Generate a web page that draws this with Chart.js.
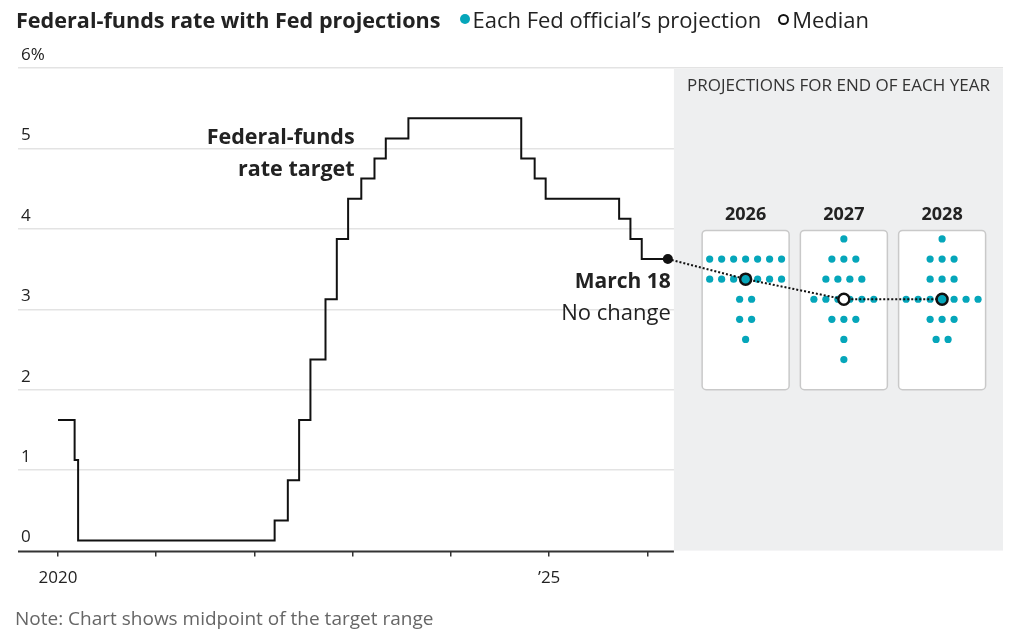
<!DOCTYPE html>
<html>
<head>
<meta charset="utf-8">
<script src="https://cdn.jsdelivr.net/npm/chart.js@4.4.1/dist/chart.umd.min.js"></script>
<style>
  body { margin: 0; background: #fff; font-family: 'Open Sans', sans-serif; color: #222; }
  #wrap { position: relative; width: 1022px; height: 636px; }
  canvas { position: absolute; left: 0; top: 0; }
  #head { position: absolute; left: 16px; top: 4px; display: flex; align-items: center; white-space: nowrap; }
  #head h1 { font-size: 21.6px; font-weight: 700; margin: 0 20px 0 0; color: #222; }
  .key { font-size: 22px; display: flex; align-items: center; margin-right: 17px; color: #222; }
  .dot { width: 10px; height: 10px; border-radius: 50%; background: #05a6ba; margin-right: 2px; }
  .ring { width: 7px; height: 7px; border-radius: 50%; border: 2.5px solid #111; margin-right: 3px; }
  #note { position: absolute; left: 15px; top: 605px; font-size: 19px; color: #666; }
</style>
</head>
<body>
<div id="wrap">
  <canvas id="myChart" width="1022" height="636"></canvas>
  <div id="head">
    <h1>Federal-funds rate with Fed projections</h1>
    <span class="key"><span class="dot"></span>Each Fed official’s projection</span>
    <span class="key"><span class="ring"></span>Median</span>
  </div>
  <div id="note">Note: Chart shows midpoint of the target range</div>
</div>
<script>
// fed funds target midpoint, each value holds from its date on
const rateDates = ['2020-01-01', '2020-03-03', '2020-03-16', '2022-03-17', '2022-05-05', '2022-06-16',
  '2022-07-28', '2022-09-22', '2022-11-03', '2022-12-15', '2023-02-02', '2023-03-23', '2023-05-04',
  '2023-07-27', '2024-09-19', '2024-11-08', '2024-12-19', '2025-09-18', '2025-10-30', '2025-12-11',
  '2026-03-18'];
const rateMid = [1.625, 1.125, 0.125, 0.375, 0.875, 1.625, 2.375, 3.125, 3.875, 4.375, 4.625, 4.875,
  5.125, 5.375, 4.875, 4.625, 4.375, 4.125, 3.875, 3.625, 3.625];

// dot plot, one value per official
const projYears = ['2026', '2027', '2028'];
const proj2026 = [3.625, 3.625, 3.625, 3.625, 3.625, 3.625, 3.625,
  3.375, 3.375, 3.375, 3.375, 3.375, 3.375, 3.375,
  3.125, 3.125, 2.875, 2.875, 2.625];
const proj2027 = [3.875, 3.625, 3.625, 3.625, 3.375, 3.375, 3.375, 3.375,
  3.125, 3.125, 3.125, 3.125, 3.125, 3.125,
  2.875, 2.875, 2.875, 2.625, 2.375];
const proj2028 = [3.875, 3.625, 3.625, 3.625, 3.375, 3.375, 3.375,
  3.125, 3.125, 3.125, 3.125, 3.125, 3.125, 3.125,
  2.875, 2.875, 2.875, 2.625, 2.625];
const projMedian = [3.375, 3.125, 3.125];

const yTicks = [0, 1, 2, 3, 4, 5, 6];
const xTicks = [2020, 2021, 2022, 2023, 2024, 2025, 2026];
const xTickLabels = ['2020', '', '', '', '', '’25', ''];

const TEAL = '#05a6ba';
const FONT = "'Open Sans'";
const dotStep = 0.122;      // spacing of dots in a row, in years
const panelStart = 2026.27; // left edge of grey panel

function toYear(s) {
  const d = new Date(s + 'T00:00:00Z');
  const y = d.getUTCFullYear();
  const start = Date.UTC(y, 0, 1), end = Date.UTC(y + 1, 0, 1);
  return y + (d - start) / (end - start);
}

// projections sit at the end of their year
function projX(i) {
  return Number(projYears[i]) + 1;
}

function dotRows(values, cx) {
  const counts = {};
  values.forEach(v => counts[v] = (counts[v] || 0) + 1);
  const pts = [];
  Object.keys(counts).forEach(k => {
    const n = counts[k];
    for (let i = 0; i < n; i++) {
      pts.push({ x: cx + (i - (n - 1) / 2) * dotStep, y: Number(k) });
    }
  });
  return pts;
}

const allProj = [proj2026, proj2027, proj2028];
let dots = [];
allProj.forEach((p, i) => { dots = dots.concat(dotRows(p, projX(i))); });

const ratePts = rateDates.map((d, i) => ({ x: toYear(d), y: rateMid[i] }));
const last = ratePts[ratePts.length - 1];
const medianPts = projMedian.map((m, i) => ({ x: projX(i), y: m }));
// a dot sits under the ring only when the median row has an odd count
const medianFill = projMedian.map((m, i) => {
  const n = allProj[i].filter(v => v === m).length;
  return n % 2 === 1 ? TEAL : '#fff';
});

function roundRect(ctx, x, y, w, h, r) {
  ctx.beginPath();
  ctx.moveTo(x + r, y);
  ctx.arcTo(x + w, y, x + w, y + h, r);
  ctx.arcTo(x + w, y + h, x, y + h, r);
  ctx.arcTo(x, y + h, x, y, r);
  ctx.arcTo(x, y, x + w, y, r);
  ctx.closePath();
}

const panelPlugin = {
  id: 'panel',
  beforeDatasetsDraw(chart) {
    const ctx = chart.ctx, a = chart.chartArea;
    const x = chart.scales.x, y = chart.scales.y;
    const px = x.getPixelForValue(panelStart);
    ctx.save();
    ctx.fillStyle = '#eeeff0';
    ctx.fillRect(px, a.top + 1, a.right - px, a.bottom - a.top - 1);

    // axis line stops at the panel
    ctx.strokeStyle = '#333';
    ctx.lineWidth = 2;
    ctx.beginPath();
    ctx.moveTo(a.left, y.getPixelForValue(0) + 1);
    ctx.lineTo(px, y.getPixelForValue(0) + 1);
    ctx.stroke();

    ctx.fillStyle = '#333';
    ctx.font = '17px ' + FONT;
    ctx.textAlign = 'center';
    ctx.textBaseline = 'middle';
    ctx.fillText('PROJECTIONS FOR END OF EACH YEAR', (px + a.right) / 2, a.top + 18);

    const top = y.getPixelForValue(3.98), bottom = y.getPixelForValue(2.0);
    projYears.forEach((yr, i) => {
      const cx = x.getPixelForValue(projX(i));
      roundRect(ctx, cx - 43.5, top, 87, bottom - top, 4);
      ctx.fillStyle = '#fff';
      ctx.fill();
      ctx.strokeStyle = '#c9c9c9';
      ctx.lineWidth = 1.5;
      ctx.stroke();
      ctx.fillStyle = '#222';
      ctx.font = 'bold 18px ' + FONT;
      ctx.fillText(yr, cx, top - 16);
    });

    // labels
    ctx.textAlign = 'right';
    ctx.font = 'bold 21.5px ' + FONT;
    ctx.fillStyle = '#222';
    const lx = x.getPixelForValue(2023.02);
    ctx.fillText('Federal-funds', lx, y.getPixelForValue(5.13));
    ctx.fillText('rate target', lx, y.getPixelForValue(4.73));

    const mx = x.getPixelForValue(last.x) + 3, my = y.getPixelForValue(last.y);
    ctx.font = 'bold 21px ' + FONT;
    ctx.fillText('March 18', mx, my + 23);
    ctx.font = '22px ' + FONT;
    ctx.fillText('No change', mx, my + 55);
    ctx.restore();
  }
};

const ctx = document.getElementById('myChart').getContext('2d');
const chart = new Chart(ctx, {
  type: 'line',
  data: {
    datasets: [
      {
        data: ratePts,
        stepped: 'before',
        borderColor: '#111',
        borderWidth: 2,
        pointRadius: ratePts.map((p, i) => i === ratePts.length - 1 ? 5 : 0),
        pointBackgroundColor: '#111',
        pointBorderWidth: 0,
        order: 3
      },
      {
        data: dots,
        showLine: false,
        pointRadius: 3.6,
        pointBackgroundColor: TEAL,
        pointBorderWidth: 0,
        order: 2
      },
      {
        data: [last].concat(medianPts),
        borderColor: '#111',
        borderWidth: 2,
        borderDash: [2, 2],
        pointRadius: 0,
        order: 1
      },
      {
        data: medianPts,
        showLine: false,
        pointRadius: 5.5,
        pointBorderWidth: 2.5,
        pointBorderColor: '#111',
        pointBackgroundColor: medianFill,
        order: 0
      }
    ]
  },
  options: {
    responsive: false,
    animation: false,
    layout: { padding: { left: 12, right: 19, top: 68, bottom: 37 } },
    plugins: { legend: { display: false }, tooltip: { enabled: false } },
    scales: {
      x: {
        type: 'linear',
        min: 2019.593,
        max: 2029.62,
        afterBuildTicks: s => { s.ticks = xTicks.map(v => ({ value: v })); },
        border: { display: false },
        grid: { drawOnChartArea: false, drawTicks: true, tickLength: 6, color: '#333', lineWidth: 1.5 },
        ticks: {
          autoSkip: false,
          maxRotation: 0,
          padding: 11,
          color: '#222',
          font: { family: FONT, size: 17 },
          callback: v => xTickLabels[xTicks.indexOf(v)]
        }
      },
      y: {
        min: 0,
        max: 6,
        afterBuildTicks: s => { s.ticks = yTicks.map(v => ({ value: v })); },
        border: { display: false },
        grid: {
          drawTicks: false,
          color: c => c.tick.value === 0 ? 'rgba(0,0,0,0)' : '#e3e3e3',
          lineWidth: 1.5
        },
        ticks: {
          mirror: true,
          padding: 3,
          labelOffset: -13,
          color: '#222',
          font: { family: FONT, size: 17 },
          callback: v => v === 6 ? '6%' : v
        }
      }
    }
  },
  plugins: [panelPlugin]
});
</script>
</body>
</html>
